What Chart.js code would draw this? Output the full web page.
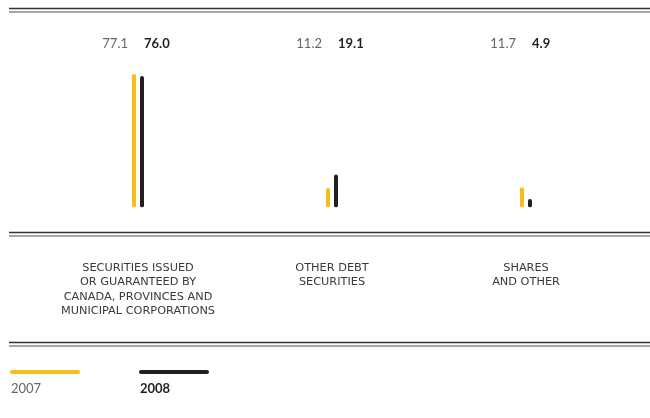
<!DOCTYPE html>
<html>
<head>
<meta charset="utf-8">
<script src="https://cdn.jsdelivr.net/npm/chart.js@4/dist/chart.umd.min.js"></script>
<style>
  html, body { margin: 0; padding: 0; background: #fff; }
  #wrap { width: 650px; height: 418px; }
</style>
</head>
<body>
<div id="wrap"><canvas id="portfolio" width="650" height="418"></canvas></div>
<script>
// categories of the securities portfolio
const categories = [
  ['SECURITIES ISSUED', 'OR GUARANTEED BY', 'CANADA, PROVINCES AND', 'MUNICIPAL CORPORATIONS'],
  ['OTHER DEBT', 'SECURITIES'],
  ['SHARES', 'AND OTHER']
];
const years = ['2007', '2008'];
const values2007 = [77.1, 11.2, 11.7];
const values2008 = [76.0, 19.1, 4.9];

const YELLOW = '#F6BE16';
const BLACK = '#231F20';
const FONT = 'Lato, "Open Sans", sans-serif';

// double rules across the page
function doubleRule(ctx, y) {
  ctx.save();
  ctx.lineWidth = 1.5;
  ctx.strokeStyle = '#333';
  ctx.beginPath(); ctx.moveTo(9, y); ctx.lineTo(650, y); ctx.stroke();
  ctx.strokeStyle = '#888';
  ctx.beginPath(); ctx.moveTo(9, y + 3.5); ctx.lineTo(650, y + 3.5); ctx.stroke();
  ctx.restore();
}

const decorations = {
  id: 'decorations',
  afterDraw(chart) {
    const ctx = chart.ctx;
    doubleRule(ctx, 8.5);
    doubleRule(ctx, 232.5);
    doubleRule(ctx, 342.5);

    // value pairs above each group: 2007 light, 2008 bold
    const xs = chart.scales.x;
    ctx.save();
    ctx.textBaseline = 'middle';
    for (let i = 0; i < categories.length; i++) {
      const cx = xs.getPixelForValue(i);
      ctx.font = '13px ' + FONT;
      ctx.fillStyle = '#666';
      ctx.textAlign = 'right';
      ctx.fillText(values2007[i].toFixed(1), cx - 10, 44);
      ctx.font = 'bold 13px ' + FONT;
      ctx.fillStyle = BLACK;
      ctx.textAlign = 'left';
      ctx.fillText(values2008[i].toFixed(1), cx + 6, 44);
    }

    // legend: coloured line with year under it
    const legendX = [11, 140];
    chart.data.datasets.forEach((ds, k) => {
      const x = legendX[k];
      ctx.lineCap = 'round';
      ctx.lineWidth = 4;
      ctx.strokeStyle = ds.backgroundColor;
      ctx.beginPath(); ctx.moveTo(x + 1, 372); ctx.lineTo(x + 67, 372); ctx.stroke();
      ctx.textAlign = 'left';
      ctx.font = (k === 1 ? 'bold ' : '') + '13px ' + FONT;
      ctx.fillStyle = k === 1 ? BLACK : '#666';
      ctx.fillText(ds.label, x, 389);
    });
    ctx.restore();
  }
};

new Chart(document.getElementById('portfolio'), {
  type: 'bar',
  data: {
    labels: categories,
    datasets: [
      { label: years[0], data: values2007, backgroundColor: YELLOW },
      { label: years[1], data: values2008, backgroundColor: BLACK }
    ]
  },
  options: {
    responsive: false,
    animation: false,
    layout: { padding: { top: 69, left: 41, right: 27, bottom: 72 } },
    datasets: {
      bar: {
        categoryPercentage: 0.0825,
        barPercentage: 0.5,
        borderRadius: 2,
        borderSkipped: false
      }
    },
    plugins: {
      legend: { display: false },
      tooltip: { enabled: false }
    },
    scales: {
      x: {
        grid: { display: false, drawTicks: false },
        border: { display: false },
        ticks: {
          padding: 53,
          color: '#3a3a3a',
          font: { family: '"DejaVu Sans", sans-serif', size: 11.3, lineHeight: 1.28 },
          maxRotation: 0,
          autoSkip: false
        }
      },
      y: {
        display: false,
        min: 0,
        max: 80
      }
    }
  },
  plugins: [decorations]
});
</script>
</body>
</html>
